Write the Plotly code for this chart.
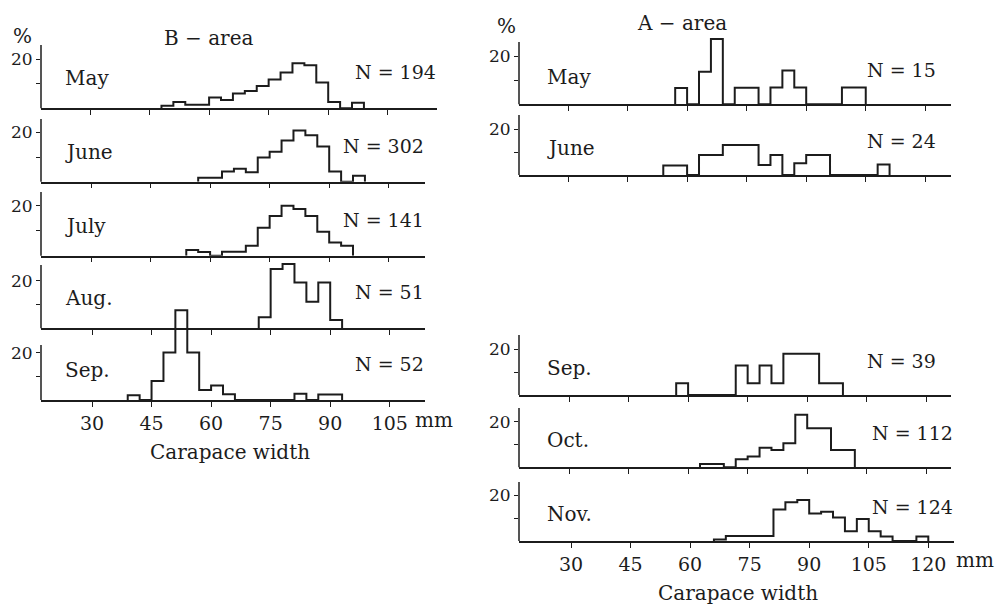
import plotly.graph_objects as go

# Carapace-width frequency (%) in 3-mm classes.
# Each series lists consecutive classes starting at the given lower limit (mm).
CLASS_WIDTH = 3

# ---- B-area ----
b_may_start = 48
b_may = [1.0, 2.6, 1.4, 1.4, 4.4, 3.4, 6.0, 7.1, 9.1, 11.8, 14.6, 18.4, 17.6, 10.5, 2.6, 0, 2.3]
b_jun_start = 57
b_jun = [1.6, 1.6, 4.1, 5.2, 3.8, 9.8, 12.1, 16.7, 20.7, 18.8, 14.3, 4.1, 0, 2.4]
b_jul_start = 54
b_jul = [2.3, 1.5, 0, 1.6, 1.6, 4.0, 11.2, 15.9, 20.0, 18.7, 15.9, 9.6, 5.3, 4.0]
b_aug_start = 72
b_aug = [4.6, 24.9, 27.0, 19.2, 11.2, 19.2, 3.5]
b_sep_start = 39
b_sep = [2.0, 0, 8.0, 20.1, 38.0, 20.1, 4.2, 6.1, 2.4, 0, 0, 0, 0, 0, 2.6, 0, 2.3, 2.3]

# ---- A-area ----
a_may_start = 57
a_may = [6.7, 0, 13.5, 27.0, 0, 6.9, 6.9, 0, 7.0, 14.0, 7.0, 0, 0, 0, 7.0, 7.0]
a_jun_start = 54
a_jun = [4.1, 4.1, 0, 8.7, 8.7, 13.0, 13.0, 13.0, 4.3, 8.7, 0, 5.1, 8.7, 8.7, 0, 0, 0, 0, 4.6]
a_sep_start = 57
a_sep = [5.1, 0, 0, 0, 0, 12.8, 5.1, 12.8, 5.1, 17.9, 17.9, 17.9, 5.1, 5.1]
a_oct_start = 63
a_oct = [1.5, 1.5, 0, 3.5, 4.7, 8.6, 7.6, 10.5, 23.0, 17.1, 17.1, 7.6, 7.6]
a_nov_start = 66
a_nov = [0.7, 2.2, 2.2, 2.2, 2.2, 13.7, 16.8, 17.8, 12.0, 12.7, 10.2, 4.2, 9.6, 4.2, 2.0, 0, 0, 2.0]

months_b = ["May", "June", "July", "Aug.", "Sep."]
n_b = [194, 302, 141, 51, 52]
months_a = ["May", "June", "Sep.", "Oct.", "Nov."]
n_a = [15, 24, 39, 112, 124]

ticks_b = [30, 45, 60, 75, 90, 105]
ticks_a = [30, 45, 60, 75, 90, 105, 120]

W, H = 1003, 606
INK = "#1c1c1c"
FONT = "DejaVu Serif"


def px(x):
    return x / W


def py(y):
    return 1 - y / H


def outline(start, pct):
    """Step outline of a histogram: rise at the first edge, fall after the last."""
    edges = [start + CLASS_WIDTH * i for i in range(len(pct) + 1)]
    xs = [edges[0]] + edges
    ys = [0] + list(pct) + [0]
    return xs, ys


# panel geometry in pixels: left/right ends of the baseline, pixel of the 30-mm tick,
# baseline row, row of the 20 % tick, top of the y-axis line
PPM = 3.97
left_col = dict(x0=41, x30s=[90, 91, 91, 92, 92], x1s=[437, 425, 425, 425, 425],
                bases=[108.3, 181.7, 255.7, 328.3, 400.0],
                t20s=[59.3, 132.3, 205.7, 280.7, 352.7],
                tops=[45, 119, 192, 265, 345])
right_col = dict(x0=519, x30s=[568, 568, 569, 569, 571], x1s=[951, 951, 951, 951, 954],
                 bases=[104.3, 175.0, 395.0, 467.3, 541.0],
                 t20s=[56.0, 129.0, 349.0, 421.7, 495.0],
                 tops=[42, 115, 335, 408, 482])

series_b = [(b_may_start, b_may), (b_jun_start, b_jun), (b_jul_start, b_jul),
            (b_aug_start, b_aug), (b_sep_start, b_sep)]
series_a = [(a_may_start, a_may), (a_jun_start, a_jun), (a_sep_start, a_sep),
            (a_oct_start, a_oct), (a_nov_start, a_nov)]

fig = go.Figure()
layout = {}
shapes = []
annotations = []
YMAX = 40
k = 0

for col, series, months, ns, ticks in [
    (left_col, series_b, months_b, n_b, ticks_b),
    (right_col, series_a, months_a, n_a, ticks_a),
]:
    for i in range(5):
        k += 1
        xa = "x" if k == 1 else f"x{k}"
        ya = "y" if k == 1 else f"y{k}"
        x0 = col["x0"]
        x1 = col["x1s"][i]
        x30 = col["x30s"][i]
        base = col["bases"][i]
        ppp = (base - col["t20s"][i]) / 20.0
        bottom = i == 4

        xs, ys = outline(*series[i])
        fig.add_trace(go.Scatter(x=xs, y=ys, mode="lines", line_shape="hv",
                                 line=dict(color=INK, width=2),
                                 xaxis=xa, yaxis=ya, showlegend=False,
                                 hoverinfo="skip"))

        layout["xaxis" if k == 1 else f"xaxis{k}"] = dict(
            domain=[px(x0), px(x1)],
            range=[30 + (x0 - x30) / PPM, 30 + (x1 - x30) / PPM],
            anchor=ya, showline=True, linecolor=INK, linewidth=1.5,
            ticks="outside", ticklen=5, tickwidth=1.4, tickcolor=INK,
            tickvals=ticks, ticktext=[str(t) for t in ticks],
            showticklabels=bottom, showgrid=False, zeroline=False,
            tickfont=dict(family=FONT, size=19, color=INK),
        )
        layout["yaxis" if k == 1 else f"yaxis{k}"] = dict(
            domain=[py(base), py(base - YMAX * ppp)],
            range=[0, YMAX], anchor=xa, showline=False,
            ticks="outside", ticklen=4, tickwidth=1.4, tickcolor=INK,
            tickvals=[10, 20], ticktext=["", "20"],
            showgrid=False, zeroline=False,
            tickfont=dict(family=FONT, size=17, color=INK),
        )
        # vertical axis line (shorter than the panel so tall bars can overshoot it)
        shapes.append(dict(type="line", xref="paper", yref="paper",
                           x0=px(x0), x1=px(x0), y0=py(base), y1=py(col["tops"][i]),
                           line=dict(color=INK, width=1.5)))

        # month label and sample size
        annotations.append(dict(text=months[i], xref="paper", yref="paper",
                                x=px(x0 + 22 if col is left_col else x0 + 26),
                                y=py(base - (30 if col is left_col else 27)),
                                xanchor="left", yanchor="middle", showarrow=False,
                                font=dict(family=FONT, size=20, color=INK)))
        annotations.append(dict(text=f"N = {ns[i]}", xref="paper", yref="paper",
                                x=px(x1 + 1 if col is left_col else 938 if i < 3 else 955),
                                y=py(base - (36 if col is left_col else 34)),
                                xanchor="right", yanchor="middle", showarrow=False,
                                font=dict(family=FONT, size=19, color=INK)))

# titles, unit marks and axis captions
for text, x, y, anchor in [
    ("B − area", 208, 38, "center"),
    ("A − area", 682, 23, "center"),
    ("%", 22, 36, "center"),
    ("%", 506, 26, "center"),
    ("mm", 434, 420, "center"),
    ("mm", 975, 560, "center"),
    ("Carapace width", 230, 452, "center"),
    ("Carapace width", 738, 593, "center"),
]:
    annotations.append(dict(text=text, xref="paper", yref="paper", x=px(x), y=py(y),
                            xanchor=anchor, yanchor="middle", showarrow=False,
                            font=dict(family=FONT, size=20, color=INK)))

fig.update_layout(
    width=W, height=H, margin=dict(l=0, r=0, t=0, b=0),
    paper_bgcolor="white", plot_bgcolor="rgba(0,0,0,0)",
    shapes=shapes, annotations=annotations, **layout,
)

fig.write_html("out.html")
